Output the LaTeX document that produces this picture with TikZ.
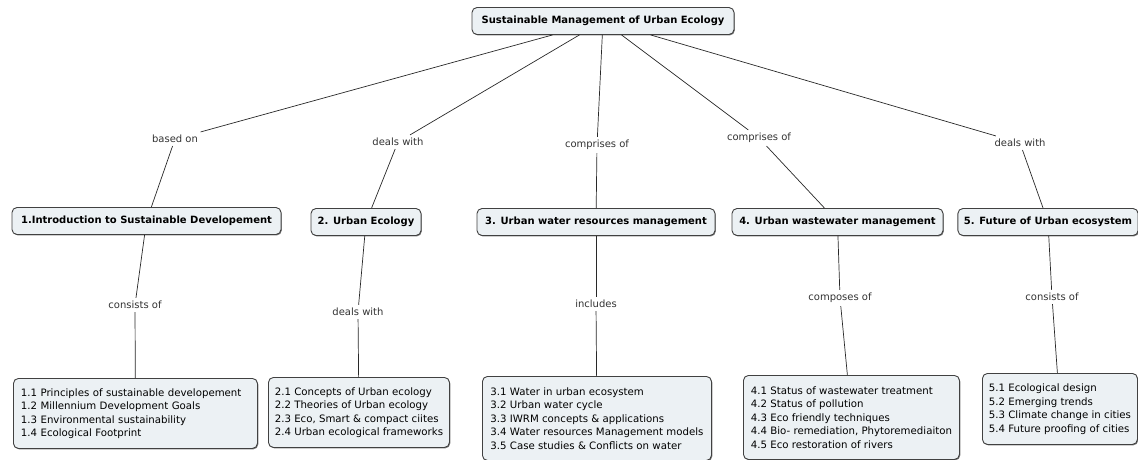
\documentclass[tikz,border=0pt]{standalone}
\usepackage{fontspec}
\setmainfont{DejaVu Sans}
\usetikzlibrary{shadows}
\definecolor{boxfill}{RGB}{236,241,244}
\definecolor{boxborder}{RGB}{65,65,65}
\definecolor{shadowcol}{RGB}{120,120,120}
\definecolor{linecol}{RGB}{40,40,40}
\definecolor{lblcol}{RGB}{50,50,50}
\begin{document}
\begin{tikzpicture}[x=1pt,y=-1pt,
  boxbase/.style={draw=boxborder, fill=boxfill, rounded corners=5pt, line width=0.9pt,
    drop shadow={shadow xshift=0.8pt, shadow yshift=-0.9pt, fill=shadowcol, opacity=1}},
  topic/.style={boxbase, font=\fontsize{10}{12}\selectfont\bfseries, inner xsep=6pt, inner ysep=3pt, minimum height=27pt},
  leaf/.style={boxbase, font=\fontsize{10.2}{13.5}\selectfont, align=left, anchor=north west, inner xsep=4pt, inner ysep=4pt},
  lbl/.style={font=\fontsize{10}{12}\selectfont, text=lblcol, inner sep=3pt},
  conn/.style={draw=linecol, line width=0.7pt}]
\useasboundingbox (0,0) rectangle (1138,460);
\clip (0,0) rectangle (1138,460);

% root and topics
\node[topic, minimum width=262pt] (root) at (603,21) {Sustainable Management of Urban Ecology};
\node[topic, minimum width=269pt] (t1) at (146.5,221) {1.Introduction to Sustainable Developement};
\node[topic, minimum width=110pt] (t2) at (366,222) {2. Urban Ecology};
\node[topic, minimum width=238pt] (t3) at (596,222) {3. Urban water resources management};
\node[topic, minimum width=211pt] (t4) at (837.5,222) {4. Urban wastewater management};
\node[topic, minimum width=176pt] (t5) at (1048,222) {5. Future of Urban ecosystem};

% leaves
\node[leaf, text width=229pt, inner xsep=7.5pt, minimum height=70pt] (l1) at (13,378)
  {1.1 Principles of sustainable developement\\1.2 Millennium Development Goals\\1.3 Environmental sustainability\\1.4 Ecological Footprint};
\node[leaf, minimum width=181pt, minimum height=70pt] (l2) at (268,377)
  {2.1 Concepts of Urban ecology\\2.2 Theories of Urban ecology\\2.3 Eco, Smart \& compact ciites\\2.4 Urban ecological frameworks};
\node[leaf, minimum width=229pt, minimum height=84pt] (l3) at (482,376)
  {3.1 Water in urban ecosystem\\3.2 Urban water cycle\\3.3 IWRM concepts \& applications\\3.4 Water resources Management models\\3.5 Case studies \& Conflicts on water};
\node[leaf, minimum width=216pt, minimum height=84pt] (l4) at (743,375)
  {4.1 Status of wastewater treatment\\4.2 Status of pollution\\4.3 Eco friendly techniques\\4.4 Bio- remediation, Phytoremediaiton\\4.5 Eco restoration of rivers};
\node[leaf, minimum width=155pt, minimum height=71pt] (l5) at (982,373)
  {5.1 Ecological design\\5.2 Emerging trends\\5.3 Climate change in cities\\5.4 Future proofing of cities};

% linking phrases, first level
\node[lbl] (a1) at (175,139) {based on};
\node[lbl] (a2) at (398,142) {deals with};
\node[lbl] (a3) at (597,145) {comprises of};
\node[lbl] (a4) at (759,138) {comprises of};
\node[lbl] (a5) at (1020,143) {deals with};

% linking phrases, second level
\node[lbl] (b1) at (135,305) {consists of};
\node[lbl] (b2) at (358,312) {deals with};
\node[lbl] (b3) at (596,304) {includes};
\node[lbl] (b4) at (840,298) {composes of};
\node[lbl] (b5) at (1052,297) {consists of};

% connectors
\foreach \i in {1,...,5}{
  \draw[conn] (root) -- (a\i);
  \draw[conn] (a\i) -- (t\i);
  \draw[conn] (t\i) -- (b\i);
  \draw[conn] (b\i) -- (l\i);
}
\end{tikzpicture}
\end{document}
